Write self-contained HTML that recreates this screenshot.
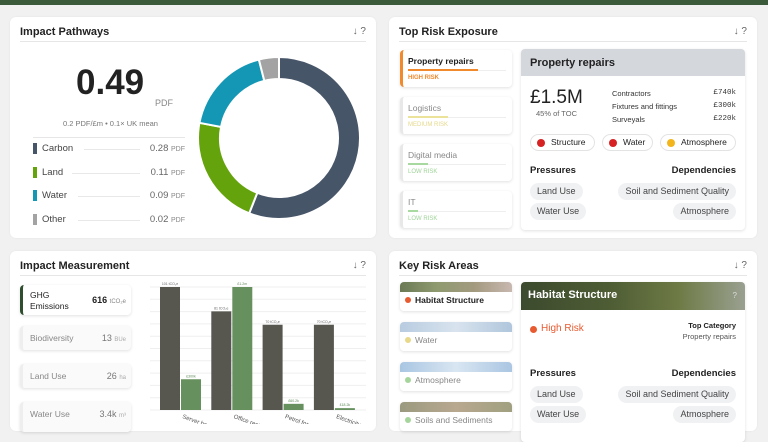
<!DOCTYPE html>
<html><head><meta charset="utf-8"><style>
*{box-sizing:border-box;margin:0;padding:0}
body{width:768px;height:424px;overflow:hidden;background:#f1f1f1;font-family:"Liberation Sans",sans-serif;color:#222;position:relative}
.abs{position:absolute}
.card{position:absolute;background:#fff;border-radius:6px;box-shadow:0 0 2px rgba(0,0,0,.06)}
.ttl{position:absolute;left:10px;top:9px;font-size:11px;font-weight:bold}
.ico{position:absolute;right:10px;top:9px;font-size:10px;color:#666}
.hr{position:absolute;left:10px;right:10px;top:24px;height:1px;background:#e6e6e6}
.pill{position:absolute;background:#f0f1f3;border-radius:9px;font-size:9px;color:#444;height:17px;line-height:17px;padding:0 7px}
.litem{position:absolute;background:#fff;border-radius:4px;box-shadow:0 1px 3px rgba(0,0,0,.12);overflow:hidden}
</style></head><body>
<div class="abs" style="left:0;top:0;width:768px;height:5px;background:#3b5a3a"></div>

<div class="card" style="left:10px;top:17px;width:366px;height:221px">
<div class="ttl">Impact Pathways</div>
<div class="ico">↓ ?</div>
<div class="hr"></div>
<div class="abs" style="left:66px;top:46px;font-size:35px;font-weight:bold">0.49</div>
<div class="abs" style="left:145px;top:81px;font-size:9px;color:#888">PDF</div>
<div class="abs" style="left:53px;top:102px;font-size:7.5px;color:#777">0.2 PDF/£m • 0.1× UK mean</div>
<div class="abs" style="left:23px;top:120px;width:152px;height:1px;background:#e6e6e6"></div>
<div id="legend"></div>
<svg class="abs" style="left:0;top:0" width="366" height="221" id="donut"></svg>
</div>

<div class="card" style="left:389px;top:17px;width:368px;height:221px">
<div class="ttl">Top Risk Exposure</div>
<div class="ico">↓ ?</div>
<div class="hr"></div>
<div class="litem" style="left:11px;top:33px;width:112px;height:37px;border-left:3px solid #f08a2c">
 <div class="abs" style="left:5px;top:6px;font-size:8.5px;font-weight:bold">Property repairs</div>
 <div class="abs" style="left:5px;top:20px;width:98px;height:1px;background:#eee"></div><div class="abs" style="left:5px;top:19px;width:70px;height:2px;background:#f08a2c"></div>
 <div class="abs" style="left:5px;top:25px;font-size:6px;color:#f08a2c;font-weight:bold">HIGH RISK</div></div>
<div class="litem" style="left:11px;top:80px;width:112px;height:37px;border-left:3px solid #e8e8e8">
 <div class="abs" style="left:5px;top:6px;font-size:8.5px;color:#888">Logistics</div>
 <div class="abs" style="left:5px;top:20px;width:98px;height:1px;background:#eee"></div><div class="abs" style="left:5px;top:19px;width:40px;height:2px;background:#ece39a"></div>
 <div class="abs" style="left:5px;top:25px;font-size:6px;color:#e3d98a">MEDIUM RISK</div></div>
<div class="litem" style="left:11px;top:127px;width:112px;height:37px;border-left:3px solid #e8e8e8">
 <div class="abs" style="left:5px;top:6px;font-size:8.5px;color:#888">Digital media</div>
 <div class="abs" style="left:5px;top:20px;width:98px;height:1px;background:#eee"></div><div class="abs" style="left:5px;top:19px;width:20px;height:2px;background:#a7d9a0"></div>
 <div class="abs" style="left:5px;top:25px;font-size:6px;color:#9fd398">LOW RISK</div></div>
<div class="litem" style="left:11px;top:174px;width:112px;height:37px;border-left:3px solid #e8e8e8">
 <div class="abs" style="left:5px;top:6px;font-size:8.5px;color:#888">IT</div>
 <div class="abs" style="left:5px;top:20px;width:98px;height:1px;background:#eee"></div><div class="abs" style="left:5px;top:19px;width:10px;height:2px;background:#a7d9a0"></div>
 <div class="abs" style="left:5px;top:25px;font-size:6px;color:#9fd398">LOW RISK</div></div>
<div class="litem" style="left:132px;top:32px;width:224px;height:181px">
 <div class="abs" style="left:0;top:0;width:224px;height:27px;background:#d4d7dc;font-size:11px;font-weight:bold;padding:8px 9px">Property repairs</div>
 <div class="abs" style="left:9px;top:38px;font-size:19px">£1.5M</div>
 <div class="abs" style="left:15px;top:60px;font-size:7.5px;color:#666">45% of TOC</div>
 <div class="abs" style="left:91px;top:38px;font-size:7.5px;line-height:13px;color:#333">Contractors<br>Fixtures and fittings<br>Surveyals</div>
 <div class="abs" style="right:9px;top:38px;font-size:7.5px;line-height:13px;color:#333;text-align:right;font-family:'Liberation Mono',monospace">£740k<br>£300k<br>£220k</div>
 <div class="abs" style="left:9px;top:85px;width:65px;height:17px;border:1px solid #e3e3e3;border-radius:9px;font-size:8.5px;line-height:15px;padding-left:20px">Structure<span class="abs" style="left:6px;top:4px;width:8px;height:8px;border-radius:50%;background:#d62222"></span></div>
 <div class="abs" style="left:81px;top:85px;width:51px;height:17px;border:1px solid #e3e3e3;border-radius:9px;font-size:8.5px;line-height:15px;padding-left:20px">Water<span class="abs" style="left:6px;top:4px;width:8px;height:8px;border-radius:50%;background:#d62222"></span></div>
 <div class="abs" style="left:139px;top:85px;width:76px;height:17px;border:1px solid #e3e3e3;border-radius:9px;font-size:8.5px;line-height:15px;padding-left:20px">Atmosphere<span class="abs" style="left:6px;top:4px;width:8px;height:8px;border-radius:50%;background:#f2b51c"></span></div>
 <div class="abs" style="left:9px;top:116px;font-size:9.5px;font-weight:bold">Pressures</div>
 <div class="abs" style="right:9px;top:116px;font-size:9.5px;font-weight:bold">Dependencies</div>
 <div class="pill" style="left:9px;top:134px">Land Use</div>
 <div class="pill" style="left:9px;top:154px">Water Use</div>
 <div class="pill" style="right:9px;top:134px">Soil and Sediment Quality</div>
 <div class="pill" style="right:9px;top:154px">Atmosphere</div>
</div>
</div>

<div class="card" style="left:10px;top:251px;width:366px;height:180px">
<div class="ttl">Impact Measurement</div>
<div class="ico">↓ ?</div>
<div class="hr"></div>
<div class="litem" style="left:10px;top:34px;width:111px;height:30px;border-left:3px solid #2f4d2f">
 <div class="abs" style="left:7px;top:5px;font-size:8.5px;line-height:11px">GHG<br>Emissions</div>
 <div class="abs" style="right:5px;top:10px;font-size:9px;font-weight:bold">616 <span style="font-weight:normal;font-size:6px;color:#888">tCO₂e</span></div></div>
<div class="litem" style="left:10px;top:75px;width:111px;height:24px;border-left:3px solid #eee;background:#fafafa">
 <div class="abs" style="left:7px;top:7px;font-size:8.5px;color:#888">Biodiversity</div>
 <div class="abs" style="right:5px;top:7px;font-size:9px;color:#777">13 <span style="font-size:6px;color:#aaa">BUe</span></div></div>
<div class="litem" style="left:10px;top:113px;width:111px;height:24px;border-left:3px solid #eee;background:#fafafa">
 <div class="abs" style="left:7px;top:7px;font-size:8.5px;color:#888">Land Use</div>
 <div class="abs" style="right:5px;top:7px;font-size:9px;color:#777">26 <span style="font-size:6px;color:#aaa">ha</span></div></div>
<div class="litem" style="left:10px;top:151px;width:111px;height:30px;border-left:3px solid #eee;background:#fafafa">
 <div class="abs" style="left:7px;top:7px;font-size:8.5px;color:#888">Water Use</div>
 <div class="abs" style="right:5px;top:7px;font-size:9px;color:#777">3.4k <span style="font-size:6px;color:#aaa">m³</span></div></div>
</div>
<svg class="abs" style="left:0;top:0" width="384" height="424" id="bars"></svg>

<div class="card" style="left:389px;top:251px;width:368px;height:180px">
<div class="ttl">Key Risk Areas</div>
<div class="ico">↓ ?</div>
<div class="hr"></div>
<div class="litem" style="left:11px;top:31px;width:112px;height:29px">
 <div class="abs" style="left:0;top:0;width:112px;height:10px;background:linear-gradient(90deg,#6b7a55,#8f9a70,#a39a80,#c8b8b0)"></div>
 <div class="abs" style="left:5px;top:15px;width:6px;height:6px;border-radius:50%;background:#e85a30"></div>
 <div class="abs" style="left:15px;top:13px;font-size:8.5px;font-weight:bold">Habitat Structure</div></div>
<div class="litem" style="left:11px;top:71px;width:112px;height:29px">
 <div class="abs" style="left:0;top:0;width:112px;height:10px;background:linear-gradient(90deg,#b8cce0,#d8e3ee,#b0c6dc)"></div>
 <div class="abs" style="left:5px;top:15px;width:6px;height:6px;border-radius:50%;background:#e8d88a"></div>
 <div class="abs" style="left:15px;top:13px;font-size:8.5px;color:#888">Water</div></div>
<div class="litem" style="left:11px;top:111px;width:112px;height:29px">
 <div class="abs" style="left:0;top:0;width:112px;height:10px;background:linear-gradient(90deg,#a9c6e2,#d9e6f2,#aac6e2)"></div>
 <div class="abs" style="left:5px;top:15px;width:6px;height:6px;border-radius:50%;background:#a6d59c"></div>
 <div class="abs" style="left:15px;top:13px;font-size:8.5px;color:#888">Atmosphere</div></div>
<div class="litem" style="left:11px;top:151px;width:112px;height:29px">
 <div class="abs" style="left:0;top:0;width:112px;height:10px;background:linear-gradient(90deg,#9a9a80,#b8a890,#a0a080)"></div>
 <div class="abs" style="left:5px;top:15px;width:6px;height:6px;border-radius:50%;background:#a6d59c"></div>
 <div class="abs" style="left:15px;top:13px;font-size:8.5px;color:#888">Soils and Sediments</div></div>
<div class="litem" style="left:132px;top:31px;width:224px;height:160px">
 <div class="abs" style="left:0;top:0;width:224px;height:28px;background:linear-gradient(90deg,#3c4a2e,#4f5d35 40%,#6d7a45 70%,#9aa090);"></div>
 <div class="abs" style="left:7px;top:7px;font-size:11px;font-weight:bold;color:#fff">Habitat Structure</div>
 <div class="abs" style="right:8px;top:9px;font-size:8px;color:#ddd">?</div>
 <div class="abs" style="left:9px;top:44px;width:7px;height:7px;border-radius:50%;background:#e85a30"></div>
 <div class="abs" style="left:20px;top:41px;font-size:10px;color:#e85a30">High Risk</div>
 <div class="abs" style="right:9px;top:39px;font-size:7.5px;font-weight:bold">Top Category</div>
 <div class="abs" style="right:9px;top:50px;font-size:7.5px;color:#555">Property repairs</div>
 <div class="abs" style="left:9px;top:86px;font-size:9.5px;font-weight:bold">Pressures</div>
 <div class="abs" style="right:9px;top:86px;font-size:9.5px;font-weight:bold">Dependencies</div>
 <div class="pill" style="left:9px;top:104px">Land Use</div>
 <div class="pill" style="left:9px;top:124px">Water Use</div>
 <div class="pill" style="right:9px;top:104px">Soil and Sediment Quality</div>
 <div class="pill" style="right:9px;top:124px">Atmosphere</div>
</div>
</div>

<script>
const NS='http://www.w3.org/2000/svg';
const sliceNames=['Carbon','Land','Water','Other'];
const sliceValues=[0.28,0.11,0.09,0.02];
const sliceColors=['#475569','#65a30d','#1497b5','#a3a3a3'];

const lg=document.getElementById('legend');
sliceNames.forEach((n,i)=>{
  const y=124+i*23.5;
  const row=document.createElement('div');
  
  
  row.className='abs';row.style.cssText=`left:23px;top:${y}px;width:152px;height:16px`;
  row.innerHTML=`<span class="abs" style="left:0;top:2px;width:4px;height:11px;background:${sliceColors[i]}"></span><span class="abs" style="left:9px;top:2px;font-size:9.5px;color:#444">${n}</span><span class="abs" style="left:${n.length*6+15}px;right:45px;top:8px;height:1px;background:#e8e8e8"></span><span class="abs" style="right:0;top:2px;font-size:9.5px;color:#666;white-space:nowrap">${sliceValues[i].toFixed(2)} <span style="font-size:7px;color:#888">PDF</span></span>`;
  lg.appendChild(row);
});

const dn=document.getElementById('donut');
const cx=269,cy=121,R=81,r=59;
const tot=sliceValues.reduce((a,b)=>a+b,0);
let a0=0;
sliceValues.forEach((v,i)=>{
  const a1=a0+v/tot*2*Math.PI;
  const p=(a,rad)=>[cx+rad*Math.sin(a),cy-rad*Math.cos(a)];
  const [x1,y1]=p(a0,R),[x2,y2]=p(a1,R),[x3,y3]=p(a1,r),[x4,y4]=p(a0,r);
  const lf=(a1-a0)>Math.PI?1:0;
  const path=document.createElementNS(NS,'path');
  path.setAttribute('d',`M${x1},${y1}A${R},${R} 0 ${lf} 1 ${x2},${y2}L${x3},${y3}A${r},${r} 0 ${lf} 0 ${x4},${y4}Z`);
  path.setAttribute('fill',sliceColors[i]);path.setAttribute('stroke','#fff');path.setAttribute('stroke-width','2');
  
  
  dn.appendChild(path);a0=a1;
});

const categories=['Server hosting','Office rent','Petrol for vehicles','Electricity'];
const emissions=[101,81,70,70];
const emissionLabels=['101 tCO₂e','81 tCO₂e','70 tCO₂e','70 tCO₂e'];
const spend=[300,1200,60.2,18.2];
const spendLabels=['£300k','£1.2m','£60.2k','£18.2k'];

const bs=document.getElementById('bars');
const baseY=410,topY=287,leftX=150,rightX=366,step=51.3,x0=160,bw=20;
const yE=v=>baseY-v/101*(baseY-topY);
const yS=v=>baseY-v/1200*(baseY-topY);
for(let i=0;i<=10;i++){
  const l=document.createElementNS(NS,'line');const y=baseY-i*(baseY-topY)/10;
  l.setAttribute('x1',leftX);l.setAttribute('x2',rightX);l.setAttribute('y1',y);l.setAttribute('y2',y);
  l.setAttribute('stroke','#efefef');l.setAttribute('stroke-width','1');
  
  
  bs.appendChild(l);
}
function rect(x,y,h,fill,name){const e=document.createElementNS(NS,'rect');e.setAttribute('x',x);e.setAttribute('y',y);e.setAttribute('width',bw);e.setAttribute('height',h);e.setAttribute('fill',fill);
  
  
  bs.appendChild(e);}
function txt(x,y,s,fill,size,name,rot){const t=document.createElementNS(NS,'text');t.setAttribute('x',x);t.setAttribute('y',y);t.textContent=s;t.setAttribute('font-size',size);t.setAttribute('fill',fill);t.setAttribute('font-family','Liberation Sans');
  if(rot){t.setAttribute('transform',`rotate(20 ${x} ${y})`);}else t.setAttribute('text-anchor','middle');
  
  
  bs.appendChild(t);}
categories.forEach((c,i)=>{
  const x=x0+i*step;
  rect(x,yE(emissions[i]),baseY-yE(emissions[i]),'#57574f','bar-emissions-'+i);
  rect(x+bw+1,yS(spend[i]),baseY-yS(spend[i]),'#66915f','bar-spend-'+i);
  txt(x+bw/2,yE(emissions[i])-2,emissionLabels[i],'#666',3.5,'bar-label-emissions');
  txt(x+bw*1.5+1,yS(spend[i])-2,spendLabels[i],'#5d8a57',3.5,'bar-label-spend');
  txt(x+bw+2,baseY+8,c,'#555',6,'x-axis-label',true);
});
</script>
</body></html>
